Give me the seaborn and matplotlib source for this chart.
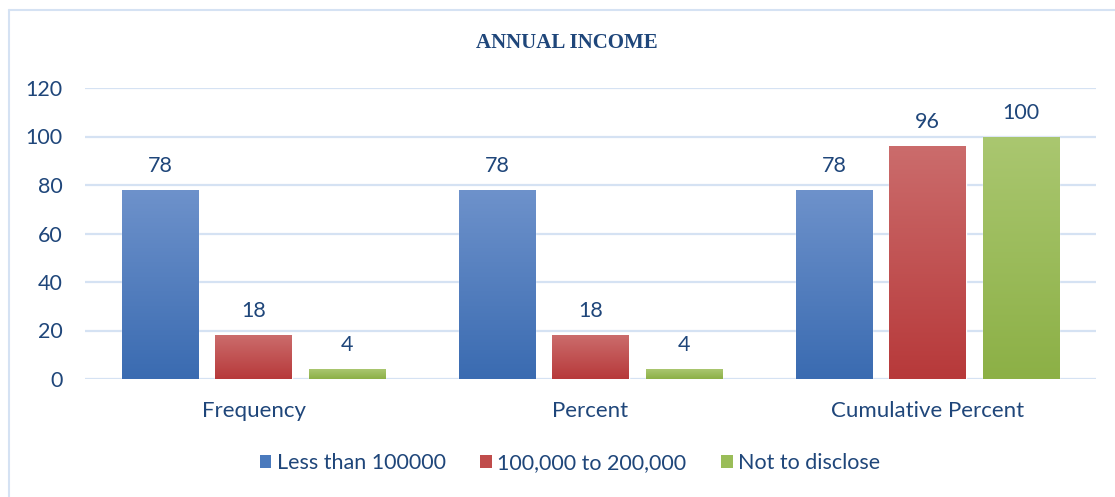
import numpy as np
import pandas as pd
import matplotlib
matplotlib.use("Agg")
import matplotlib.pyplot as plt
from matplotlib.colors import LinearSegmentedColormap
from matplotlib.patches import Patch
from matplotlib.lines import Line2D
import seaborn as sns

# Data
measures = ["Frequency", "Percent", "Cumulative Percent"]
income_groups = ["Less than 100000", "100,000 to 200,000", "Not to disclose"]
less_than_100k = [78, 78, 78]
from_100k_to_200k = [18, 18, 96]
not_disclosed = [4, 4, 100]
title = "ANNUAL INCOME"

# Colours (top, bottom) of each gradient fill
tops = ["#6e92cb", "#cb6c6c", "#aac770"]
bottoms = ["#3a6bb1", "#b7393a", "#8cb046"]
mids = ["#4a7abd", "#c04c4b", "#9abd58"]
text_col = "#1f467a"
grid_col = "#d5e2f3"

df = pd.DataFrame({
    "measure": measures * 3,
    "group": [income_groups[0]] * 3 + [income_groups[1]] * 3 + [income_groups[2]] * 3,
    "value": less_than_100k + from_100k_to_200k + not_disclosed,
})

sns.set_theme(style="white")
plt.rcParams["font.family"] = ["Lato", "DejaVu Sans"]

fig = plt.figure(figsize=(11.15, 4.97), dpi=100)
ax = fig.add_axes([85 / 1115, 1 - 379 / 497, (1096 - 85) / 1115, (379 - 88) / 497])

sns.barplot(data=df, x="measure", y="value", hue="group", order=measures,
            hue_order=income_groups, palette=mids, width=0.83, gap=0.18,
            errorbar=None, legend=False, ax=ax, zorder=3)

ax.set_xlabel("")
ax.set_ylabel("")
for s in ax.spines.values():
    s.set_visible(False)
ax.grid(axis="y", color=grid_col, linewidth=1.6, zorder=0)
ax.grid(axis="x", visible=False)
ax.tick_params(axis="y", length=0, pad=16, labelsize=15.5, labelcolor=text_col)
ax.tick_params(axis="x", length=0, pad=15.5, labelsize=16, labelcolor=text_col)

# Vertical gradient fill on each bar
grad = np.linspace(0, 1, 256).reshape(-1, 1)
for container, top, bot in zip(ax.containers, tops, bottoms):
    cmap = LinearSegmentedColormap.from_list("g", [bot, top])
    for bar in container:
        x0, y0 = bar.get_x(), bar.get_y()
        w, h = bar.get_width(), bar.get_height()
        im = ax.imshow(grad, cmap=cmap, aspect="auto", origin="lower",
                       extent=[x0, x0 + w, y0, y0 + h], zorder=3.5,
                       interpolation="bicubic")
        im.set_clip_path(bar)
    ax.bar_label(container, padding=10, fontsize=15.5, color=text_col, zorder=5)

ax.set_xlim(-0.5, 2.5)
ax.set_ylim(0, 120)
ax.set_yticks(np.arange(0, 121, 20))

# Title
fig.text(567 / 1115, 1 - 43 / 497, title, ha="center", va="center",
         fontsize=15, fontweight="bold", color=text_col,
         family=["Liberation Serif", "DejaVu Serif"])

# Legend
handles = [Patch(facecolor=c, edgecolor="none") for c in mids]
fig.legend(handles, income_groups, loc="center", bbox_to_anchor=(570 / 1115, 1 - 463 / 497),
           ncol=3, frameon=False, fontsize=15.5, labelcolor=text_col,
           handlelength=0.55, handleheight=0.55, handletextpad=0.25, columnspacing=1.6)

# Chart frame
fig.add_artist(Line2D([9 / 1115, 9 / 1115], [0, 1 - 10 / 497], transform=fig.transFigure,
                      color=grid_col, linewidth=1.5))
fig.add_artist(Line2D([9 / 1115, 1], [1 - 10 / 497, 1 - 10 / 497], transform=fig.transFigure,
                      color=grid_col, linewidth=1.5))

fig.savefig("out.png", dpi=100, facecolor="white")
